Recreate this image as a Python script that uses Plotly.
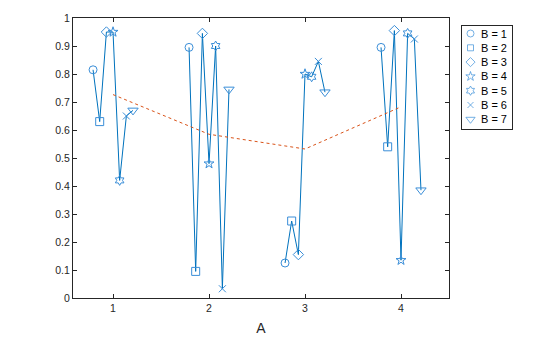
import numpy as np
import plotly.graph_objects as go

groups = [1, 2, 3, 4]
b_levels = [1, 2, 3, 4, 5, 6, 7]
# values per group A=1..4, for B=1..7
vals_A1 = [0.815, 0.630, 0.950, 0.950, 0.420, 0.650, 0.670]
vals_A2 = [0.895, 0.095, 0.945, 0.480, 0.900, 0.033, 0.745]
vals_A3 = [0.125, 0.275, 0.155, 0.800, 0.790, 0.845, 0.735]
vals_A4 = [0.895, 0.540, 0.955, 0.135, 0.945, 0.925, 0.385]
values = [vals_A1, vals_A2, vals_A3, vals_A4]
symbols = ["circle-open", "square-open", "diamond-open", "star-open",
           "hexagram-open", "x-thin-open", "triangle-down-open"]
offsets = [-0.208, -0.139, -0.069, 0.0, 0.069, 0.139, 0.208]

blue = "#0072BD"
mblue = "#3A8ED8"
orange = "#D95319"
txt = "#262626"
FONT = "Liberation Sans, Arial, sans-serif"

W, H = 560, 337
L, T, B = 73, 18, 39
plot_w = W - L
plot_h = H - T - B
main_right = 449
leg_l, leg_r, leg_t, leg_b = 462, 512, 26, 129

fig = go.Figure()

for g, v in zip(groups, values):
    fig.add_trace(go.Scatter(
        x=[g + o for o in offsets], y=v, mode="lines",
        line=dict(color=blue, width=1), showlegend=False, hoverinfo="skip"))

fig.add_trace(go.Scatter(
    x=groups, y=[float(np.mean(v)) for v in values], mode="lines",
    line=dict(color=orange, width=1, dash="dot"), showlegend=False))

marker_sizes = [8, 8, 8, 7.5, 7.5, 7, 9]
for i, b in enumerate(b_levels):
    fig.add_trace(go.Scatter(
        x=[g + offsets[i] for g in groups], y=[v[i] for v in values],
        mode="markers", name=f"B = {b}", showlegend=False,
        marker=dict(symbol=symbols[i], size=marker_sizes[i], color=mblue,
                    line=dict(width=1, color=mblue))))

# custom legend drawn in an inset axis (units: pixels inside the box)
leg_w = leg_r - leg_l
leg_h = leg_b - leg_t
row_y = [7.5 + 14.3 * i for i in range(len(b_levels))]
fig.add_trace(go.Scatter(
    x=[8.5] * len(b_levels), y=row_y, mode="markers", xaxis="x2", yaxis="y2",
    showlegend=False, hoverinfo="skip",
    marker=dict(symbol=symbols, size=[7, 6, 7, 7, 7, 6, 8], color=mblue,
                line=dict(width=1, color=mblue))))
for i, b in enumerate(b_levels):
    fig.add_annotation(x=16.5, y=row_y[i], xref="x2", yref="y2", text=f"B = {b}",
                       showarrow=False, xanchor="left", yanchor="middle",
                       font=dict(family=FONT, size=11, color="#000000"))

axis_common = dict(showline=True, linecolor=txt, linewidth=1,
                   mirror="ticks", ticks="inside", ticklen=4,
                   tickcolor=txt, showgrid=False, zeroline=False, automargin=False,
                   tickfont=dict(family=FONT, size=10.5, color=txt))

fig.update_layout(
    width=W, height=H,
    margin=dict(l=L, r=0, t=T, b=B),
    paper_bgcolor="white", plot_bgcolor="white",
    font=dict(family=FONT, color=txt),
    showlegend=False,
    xaxis=dict(domain=[0, (main_right - L) / plot_w], range=[0.583, 4.5],
               tickvals=groups, ticktext=[str(g) for g in groups],
               title=dict(text="A", font=dict(family=FONT, size=14, color=txt), standoff=10),
               **axis_common),
    yaxis=dict(range=[0, 1], tickvals=[i / 10 for i in range(11)],
               ticktext=["0", "0.1", "0.2", "0.3", "0.4", "0.5", "0.6", "0.7", "0.8", "0.9", "1"],
               **axis_common),
    xaxis2=dict(domain=[(leg_l - L) / plot_w, (leg_r - L) / plot_w], range=[0, leg_w],
                anchor="y2", showline=True, mirror=True, linecolor=txt, linewidth=1,
                showticklabels=False, ticks="", showgrid=False, zeroline=False,
                fixedrange=True),
    yaxis2=dict(domain=[(H - B - leg_b) / plot_h, (H - B - leg_t) / plot_h],
                range=[leg_h, 0], anchor="x2", showline=True, mirror=True,
                linecolor=txt, linewidth=1, showticklabels=False, ticks="",
                showgrid=False, zeroline=False, fixedrange=True),
)

fig.write_html("out.html")
